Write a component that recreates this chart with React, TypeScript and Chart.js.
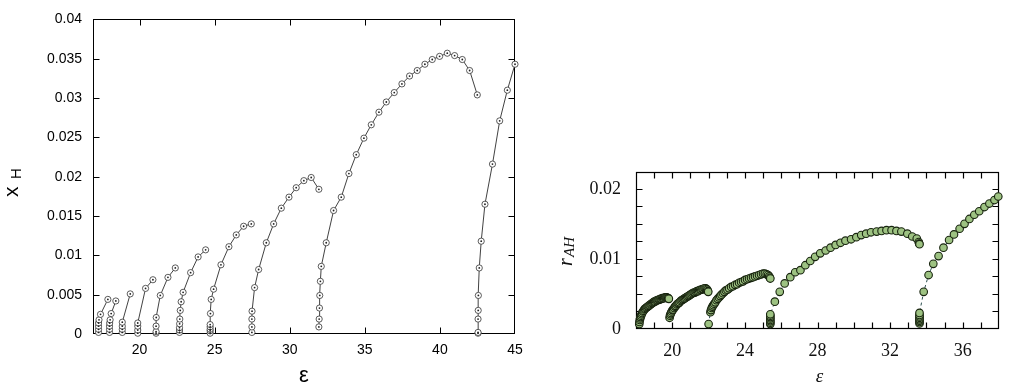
import React, { useEffect, useRef } from 'react';
import { Chart, registerables } from 'chart.js';
Chart.register(...registerables);

// ---------- Left panel: x_H versus ε ----------
const b1Eps = [17.27, 17.27, 17.27, 17.27, 17.3, 17.4, 17.89];
const b1XH = [0.0002, 0.0006, 0.001, 0.0014, 0.0018, 0.0025, 0.0044];
const b2Eps = [18.0, 18.0, 18.0, 18.01, 18.04, 18.11, 18.42];
const b2XH = [0.0002, 0.0006, 0.001, 0.0014, 0.0018, 0.0026, 0.0042];
const b3Eps = [18.85, 18.85, 18.85, 18.85, 19.38];
const b3XH = [0.0002, 0.0006, 0.001, 0.0015, 0.0051];
const b4Eps = [19.88, 19.88, 19.88, 19.88, 20.4, 20.89];
const b4XH = [0.0001, 0.0005, 0.001, 0.0014, 0.0058, 0.0069];
const b5Eps = [21.1, 21.1, 21.1, 21.11, 21.38, 21.89, 22.38];
const b5XH = [0.0001, 0.0003, 0.001, 0.0021, 0.0049, 0.0072, 0.0084];
const b6Eps = [22.66, 22.66, 22.66, 22.67, 22.68, 22.71, 22.77, 22.9, 23.4, 23.9, 24.4];
const b6XH = [0.0002, 0.0005, 0.0008, 0.0013, 0.0019, 0.003, 0.0041, 0.0053, 0.0078, 0.0098, 0.0107];
const b7Eps = [24.7, 24.7, 24.7, 24.7, 24.7, 24.72, 24.77, 24.93, 25.42, 25.95, 26.44, 26.93, 27.44];
const b7XH = [0.0001, 0.0004, 0.0006, 0.0009, 0.0012, 0.0026, 0.0044, 0.0057, 0.0088, 0.0111, 0.0126, 0.0137, 0.014];
const b8Eps = [27.48, 27.48, 27.48, 27.49, 27.66, 27.93, 28.44, 28.93, 29.44, 29.95, 30.43, 30.94, 31.43, 31.94];
const b8XH = [0.0002, 0.0009, 0.0019, 0.0029, 0.0059, 0.0082, 0.0116, 0.014, 0.016, 0.0174, 0.0186, 0.0195, 0.0199, 0.0184];
const b9Eps = [31.94, 31.96, 31.98, 32.0, 32.04, 32.1, 32.43, 32.92, 33.43, 33.94, 34.43, 34.94, 35.43, 35.94, 36.43, 36.96, 37.47, 37.98, 38.49, 39.0, 39.49, 39.98, 40.49, 40.98, 41.49, 41.98, 42.49];
const b9XH = [0.0009, 0.0019, 0.0033, 0.0049, 0.0067, 0.0086, 0.0116, 0.0157, 0.0174, 0.0204, 0.0228, 0.0249, 0.0266, 0.0282, 0.0295, 0.0307, 0.0318, 0.0328, 0.0335, 0.0343, 0.0349, 0.0353, 0.0357, 0.0354, 0.0349, 0.0335, 0.0304];
const b10Eps = [42.54, 42.54, 42.54, 42.55, 42.56, 42.62, 42.75, 43.0, 43.5, 43.98, 44.49, 45.0];
const b10XH = [0.0001, 0.0002, 0.0019, 0.003, 0.0049, 0.0084, 0.0118, 0.0165, 0.0216, 0.0271, 0.031, 0.0343];

const leftXTicks = [20, 25, 30, 35, 40, 45];
const leftYTicks = [0, 0.005, 0.01, 0.015, 0.02, 0.025, 0.03, 0.035, 0.04];

// ---------- Right panel: r_AH versus ε ----------
const rAEps = [18.18, 18.19, 18.21, 18.23, 18.25, 18.28, 18.31, 18.34, 18.38, 18.42, 18.46, 18.5, 18.55, 18.6, 18.65, 18.7, 18.75, 18.8, 18.85, 18.9, 18.95, 19.0, 19.05, 19.1, 19.15, 19.2, 19.25, 19.3, 19.35, 19.4, 19.45, 19.5, 19.55, 19.6, 19.65, 19.7, 19.74, 19.78, 19.81];
const rAVal = [0.0007, 0.001, 0.0013, 0.0015, 0.0017, 0.0019, 0.0021, 0.0023, 0.0025, 0.0026, 0.0028, 0.0029, 0.003, 0.0031, 0.0032, 0.0033, 0.0034, 0.0035, 0.0036, 0.0037, 0.0038, 0.0039, 0.0039, 0.004, 0.0041, 0.0041, 0.0042, 0.0042, 0.0043, 0.0043, 0.0044, 0.0044, 0.0044, 0.0045, 0.0045, 0.0045, 0.0044, 0.0044, 0.0043];
const rBEps = [19.85, 19.87, 19.9, 19.93, 19.97, 20.01, 20.05, 20.1, 20.15, 20.2, 20.25, 20.3, 20.35, 20.4, 20.46, 20.52, 20.58, 20.64, 20.7, 20.76, 20.82, 20.88, 20.94, 21.0, 21.06, 21.12, 21.18, 21.24, 21.3, 21.36, 21.42, 21.48, 21.54, 21.6, 21.66, 21.72, 21.78, 21.84, 21.89, 21.93, 21.96, 21.98];
const rBVal = [0.0016, 0.0019, 0.0021, 0.0023, 0.0025, 0.0027, 0.0028, 0.003, 0.0032, 0.0033, 0.0035, 0.0036, 0.0037, 0.0038, 0.004, 0.0041, 0.0042, 0.0043, 0.0044, 0.0045, 0.0046, 0.0047, 0.0048, 0.0049, 0.005, 0.0051, 0.0052, 0.0052, 0.0053, 0.0054, 0.0054, 0.0055, 0.0056, 0.0056, 0.0057, 0.0057, 0.0058, 0.0058, 0.0057, 0.0056, 0.0054, 0.0053];
const rCEps = [22.0, 22.1, 22.13, 22.17, 22.21, 22.26, 22.31, 22.37, 22.43, 22.5, 22.57, 22.64, 22.71, 22.79, 22.87, 22.95, 23.04, 23.13, 23.24, 23.35, 23.46, 23.57, 23.68, 23.79, 23.9, 24.01, 24.12, 24.23, 24.34, 24.45, 24.56, 24.67, 24.78, 24.89, 25.0, 25.1, 25.2, 25.28, 25.34, 25.38, 25.4];
const rCVal = [0.0007, 0.0024, 0.0027, 0.003, 0.0032, 0.0034, 0.0036, 0.0038, 0.0041, 0.0043, 0.0045, 0.0047, 0.0049, 0.0051, 0.0053, 0.0055, 0.0056, 0.0058, 0.006, 0.0061, 0.0063, 0.0064, 0.0066, 0.0067, 0.0068, 0.007, 0.0071, 0.0072, 0.0073, 0.0074, 0.0075, 0.0076, 0.0077, 0.0078, 0.0079, 0.0079, 0.0078, 0.0077, 0.0075, 0.0073, 0.0072];
const rDEps = [25.4, 25.4, 25.4, 25.4, 25.4, 25.4, 25.4, 25.4, 25.65, 25.92, 26.19, 26.5, 26.77, 27.06, 27.33, 27.6, 27.87, 28.15, 28.45, 28.72, 29.0, 29.27, 29.54, 29.85, 30.14, 30.41, 30.68, 30.95, 31.26, 31.53, 31.8, 32.08, 32.35, 32.62, 32.95, 33.22, 33.47, 33.58, 33.6, 33.62];
const rDVal = [0.0007, 0.0009, 0.0011, 0.0013, 0.0015, 0.0017, 0.0019, 0.0021, 0.0039, 0.0053, 0.0065, 0.0074, 0.0081, 0.0084, 0.0091, 0.0097, 0.0103, 0.0108, 0.0112, 0.0116, 0.012, 0.0123, 0.0126, 0.0128, 0.0131, 0.0134, 0.0136, 0.0138, 0.0139, 0.014, 0.0141, 0.0141, 0.014, 0.0139, 0.0136, 0.0132, 0.0129, 0.0124, 0.0122, 0.0121];
const rEEps = [33.62, 33.62, 33.62, 33.62, 33.62, 33.62, 33.62, 33.62, 33.85, 34.12, 34.38, 34.67, 34.94, 35.25, 35.52, 35.83, 36.1, 36.37, 36.64, 36.91, 37.2, 37.47, 37.75, 37.96];
const rEVal = [0.0008, 0.001, 0.0012, 0.0014, 0.0016, 0.0018, 0.002, 0.0023, 0.0053, 0.0077, 0.0093, 0.0104, 0.0116, 0.0127, 0.0135, 0.0143, 0.015, 0.0157, 0.0163, 0.0168, 0.0174, 0.0179, 0.0184, 0.0189];

const rightXTicks = [18, 19, 20, 21, 22, 23, 24, 25, 26, 27, 28, 29, 30, 31, 32, 33, 34, 35, 36, 37, 38];
const rightXLabels = [20, 24, 28, 32, 36];
const rightYTicks = [0, 0.0025, 0.005, 0.0075, 0.01, 0.0125, 0.015, 0.0175, 0.02];
const rightYLabels = [0, 0.01, 0.02];

const SANS = '"Liberation Sans", Arial, Helvetica, sans-serif';
const SERIF = '"Liberation Serif", "Times New Roman", serif';

const toPts = (xs: number[], ys: number[]) => xs.map((x, i) => ({ x, y: ys[i] }));
const near = (v: number, list: number[]) => list.some((l) => Math.abs(l - v) < 1e-7);

// frame + inward mirrored ticks (gnuplot style)
const frameTicks = {
  id: 'frameTicks',
  beforeDatasetsDraw(chart: any, _args: any, opts: any) {
    const { ctx, chartArea: a } = chart;
    const xs = chart.scales.x;
    const ys = chart.scales.y;
    const L = opts.len ?? 6;
    const l = Math.round(a.left) + 0.5;
    const r = Math.round(a.right) - 0.5;
    const t = Math.round(a.top) + 0.5;
    const b = Math.round(a.bottom) - 0.5;
    ctx.save();
    ctx.strokeStyle = opts.color || '#000';
    ctx.lineWidth = opts.width || 1;
    ctx.strokeRect(l, t, r - l, b - t);
    ctx.beginPath();
    xs.ticks.forEach((tk: any) => {
      const px = Math.round(xs.getPixelForValue(tk.value)) + 0.5;
      if (px <= l + 1 || px >= r - 1) return;
      ctx.moveTo(px, b);
      ctx.lineTo(px, b - L);
      ctx.moveTo(px, t);
      ctx.lineTo(px, t + L);
    });
    ys.ticks.forEach((tk: any) => {
      const py = Math.round(ys.getPixelForValue(tk.value)) + 0.5;
      if (py <= t + 1 || py >= b - 1) return;
      ctx.moveTo(l, py);
      ctx.lineTo(l + L, py);
      ctx.moveTo(r, py);
      ctx.lineTo(r - L, py);
    });
    ctx.stroke();
    ctx.restore();
  },
};

// dot in the middle of each open circle (left panel)
const centerDots = {
  id: 'centerDots',
  afterDatasetsDraw(chart: any) {
    const { ctx } = chart;
    ctx.save();
    ctx.fillStyle = '#222';
    chart.data.datasets.forEach((_d: any, i: number) => {
      chart.getDatasetMeta(i).data.forEach((p: any) => {
        ctx.beginPath();
        ctx.arc(p.x, p.y, 0.9, 0, Math.PI * 2);
        ctx.fill();
      });
    });
    ctx.restore();
  },
};

const leftTitles = {
  id: 'leftTitles',
  afterDraw(chart: any) {
    const { ctx, chartArea: a } = chart;
    ctx.save();
    ctx.fillStyle = '#000';
    ctx.textAlign = 'center';
    ctx.textBaseline = 'alphabetic';
    ctx.font = `22px ${SANS}`;
    ctx.fillText('ε', (a.left + a.right) / 2, 382);
    ctx.translate(18, 197);
    ctx.rotate(-Math.PI / 2);
    ctx.textAlign = 'left';
    ctx.font = `21px ${SANS}`;
    ctx.fillText('x', 0, 0);
    ctx.font = `15px ${SANS}`;
    ctx.fillText('H', 18, 3);
    ctx.restore();
  },
};

const rightTitles = {
  id: 'rightTitles',
  afterDraw(chart: any) {
    const { ctx, chartArea: a } = chart;
    ctx.save();
    ctx.fillStyle = '#111';
    ctx.textAlign = 'center';
    ctx.textBaseline = 'alphabetic';
    ctx.font = `italic 19px ${SERIF}`;
    ctx.fillText('ε', (a.left + a.right) / 2 + 2, 382);
    ctx.translate(32, 266);
    ctx.rotate(-Math.PI / 2);
    ctx.textAlign = 'left';
    ctx.font = `italic 20px ${SERIF}`;
    ctx.fillText('r', 0, 0);
    ctx.font = `italic 15px ${SERIF}`;
    ctx.fillText('AH', 9, 1.5);
    ctx.restore();
  },
};

const leftBranches: [number[], number[]][] = [
  [b1Eps, b1XH], [b2Eps, b2XH], [b3Eps, b3XH], [b4Eps, b4XH], [b5Eps, b5XH],
  [b6Eps, b6XH], [b7Eps, b7XH], [b8Eps, b8XH], [b9Eps, b9XH], [b10Eps, b10XH],
];
const rightBranches: [number[], number[]][] = [
  [rAEps, rAVal], [rBEps, rBVal], [rCEps, rCVal], [rDEps, rDVal], [rEEps, rEVal],
];

function leftConfig(): any {
  return {
    type: 'scatter',
    data: {
      datasets: leftBranches.map(([e, v]) => ({
        data: toPts(e, v),
        showLine: true,
        borderColor: '#111',
        borderWidth: 0.8,
        pointRadius: 3.1,
        pointBorderWidth: 0.8,
        pointBorderColor: '#333',
        pointBackgroundColor: '#fff',
        clip: false,
      })),
    },
    options: {
      responsive: false,
      animation: false,
      devicePixelRatio: 1,
      events: [],
      layout: { padding: { left: 0, top: 16, right: 25, bottom: 0 } },
      plugins: { legend: { display: false }, tooltip: { enabled: false }, frameTicks: { len: 6, width: 1 } },
      scales: {
        x: {
          type: 'linear',
          min: 16.9,
          max: 45,
          afterBuildTicks: (s: any) => { s.ticks = leftXTicks.map((value) => ({ value })); },
          afterFit: (s: any) => { s.height = 56; },
          grid: { display: false, drawTicks: false },
          border: { display: false },
          ticks: {
            autoSkip: false,
            maxRotation: 0,
            padding: 8,
            color: '#000',
            font: { family: SANS, size: 14 },
            callback: (v: number) => String(v),
          },
        },
        y: {
          type: 'linear',
          min: 0,
          max: 0.04,
          afterBuildTicks: (s: any) => { s.ticks = leftYTicks.map((value) => ({ value })); },
          afterFit: (s: any) => { s.width = 93; },
          grid: { display: false, drawTicks: false },
          border: { display: false },
          ticks: {
            autoSkip: false,
            padding: 11,
            color: '#000',
            font: { family: SANS, size: 14 },
            callback: (v: number) => String(Number(v.toFixed(4))),
          },
        },
      },
    },
    plugins: [frameTicks, centerDots, leftTitles],
  };
}

function rightConfig(): any {
  return {
    type: 'scatter',
    data: {
      datasets: rightBranches.map(([e, v]) => ({
        data: toPts(e, v),
        showLine: true,
        borderColor: '#2b4f4f',
        borderWidth: 1,
        borderDash: [3, 3],
        pointRadius: 3.8,
        pointBorderWidth: 1.1,
        pointBorderColor: '#18240f',
        pointBackgroundColor: '#9dc282',
        clip: false,
      })),
    },
    options: {
      responsive: false,
      animation: false,
      devicePixelRatio: 1,
      events: [],
      layout: { padding: { left: 0, top: 172, right: 6, bottom: 0 } },
      plugins: { legend: { display: false }, tooltip: { enabled: false }, frameTicks: { len: 6, width: 1.2 } },
      scales: {
        x: {
          type: 'linear',
          min: 18,
          max: 38,
          afterBuildTicks: (s: any) => { s.ticks = rightXTicks.map((value) => ({ value })); },
          afterFit: (s: any) => { s.height = 61; },
          grid: { display: false, drawTicks: false },
          border: { display: false },
          ticks: {
            autoSkip: false,
            maxRotation: 0,
            padding: 11,
            color: '#111',
            font: { family: SERIF, size: 18 },
            callback: (v: number) => (near(v, rightXLabels) ? String(v) : ''),
          },
        },
        y: {
          type: 'linear',
          min: 0,
          max: 0.0224,
          afterBuildTicks: (s: any) => { s.ticks = rightYTicks.map((value) => ({ value })); },
          afterFit: (s: any) => { s.width = 96; },
          grid: { display: false, drawTicks: false },
          border: { display: false },
          ticks: {
            autoSkip: false,
            padding: 15,
            color: '#111',
            font: { family: SERIF, size: 18 },
            callback: (v: number) => (near(v, rightYLabels) ? String(Number(v.toFixed(4))) : ''),
          },
        },
      },
    },
    plugins: [frameTicks, rightTitles],
  };
}

export default function App() {
  const leftRef = useRef<HTMLCanvasElement>(null);
  const rightRef = useRef<HTMLCanvasElement>(null);
  useEffect(() => {
    const c1 = new Chart(leftRef.current as HTMLCanvasElement, leftConfig());
    const c2 = new Chart(rightRef.current as HTMLCanvasElement, rightConfig());
    return () => {
      c1.destroy();
      c2.destroy();
    };
  }, []);
  return (
    <div style={{ position: 'absolute', left: 0, top: 0, width: 1010, height: 390, background: '#fff' }}>
      <canvas ref={leftRef} width={540} height={390} style={{ position: 'absolute', left: 0, top: 0, width: 540, height: 390 }} />
      <canvas ref={rightRef} width={470} height={390} style={{ position: 'absolute', left: 540, top: 0, width: 470, height: 390 }} />
    </div>
  );
}
